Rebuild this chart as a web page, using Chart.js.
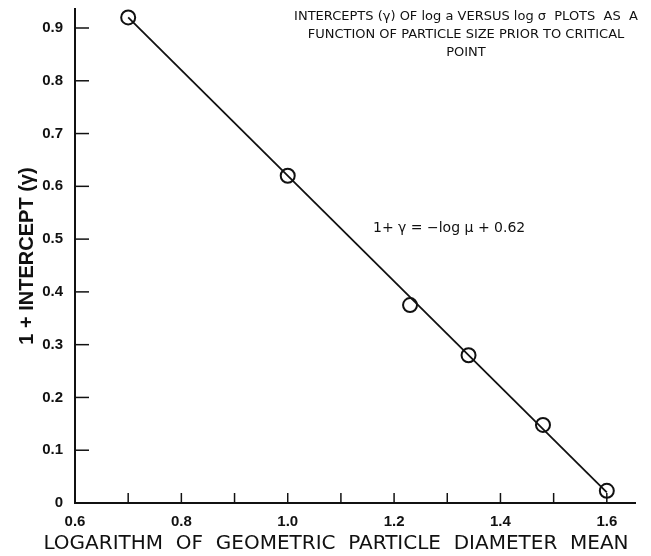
<!DOCTYPE html>
<html>
<head>
<meta charset="utf-8">
<script src="https://cdn.jsdelivr.net/npm/chart.js@4/dist/chart.umd.min.js"></script>
<style>
  html, body { margin: 0; padding: 0; background: #fff; }
  #wrap { width: 651px; height: 556px; }
</style>
</head>
<body>
<div id="wrap"><canvas id="chart" width="651" height="556"></canvas></div>
<script>
// measured points
const logDiameter = [0.7, 1.0, 1.23, 1.34, 1.48, 1.6];
const intercept = [0.92, 0.62, 0.375, 0.28, 0.148, 0.023];

// fitted line: 1 + y = -log u + 0.62
const fitX = [0.7, 1.6];
const fitY = [0.92, 0.02];

const xTitle = "LOGARITHM  OF  GEOMETRIC  PARTICLE  DIAMETER  MEAN";
const yTitle = "1 + INTERCEPT (γ)";
const noteLines = [
  "INTERCEPTS (γ) OF log a VERSUS log σ  PLOTS  AS  A",
  "FUNCTION OF PARTICLE SIZE PRIOR TO CRITICAL",
  "POINT"
];
const eqText = "1+ γ = −log μ + 0.62";

const ink = "#111";

/* inward tick marks + text notes */
const extras = {
  id: "extras",
  afterDraw(c) {
    const ctx = c.ctx;
    const xs = c.scales.x, ys = c.scales.y;
    ctx.save();
    ctx.strokeStyle = ink;
    ctx.lineWidth = 1.5;
    ys.ticks.forEach(t => {
      const py = ys.getPixelForValue(t.value);
      ctx.beginPath();
      ctx.moveTo(xs.left, py);
      ctx.lineTo(xs.left + 14, py);
      ctx.stroke();
    });
    xs.ticks.forEach(t => {
      const px = xs.getPixelForValue(t.value);
      ctx.beginPath();
      ctx.moveTo(px, ys.bottom);
      ctx.lineTo(px, ys.bottom - 10);
      ctx.stroke();
    });

    ctx.fillStyle = ink;
    ctx.textAlign = "center";
    ctx.textBaseline = "middle";
    ctx.font = "13px 'DejaVu Sans'";
    noteLines.forEach((s, i) => ctx.fillText(s, 466, 17 + i * 18));
    ctx.font = "20px 'DejaVu Sans'";
    ctx.fillText(xTitle, 336, 544);
    ctx.textAlign = "left";
    ctx.font = "14px 'DejaVu Sans'";
    ctx.fillText(eqText, 373, 228);
    ctx.restore();
  }
};

new Chart(document.getElementById("chart"), {
  type: "scatter",
  data: {
    datasets: [
      {
        label: "fit",
        data: fitX.map((x, i) => ({ x, y: fitY[i] })),
        showLine: true,
        borderColor: ink,
        borderWidth: 1.8,
        pointRadius: 0
      },
      {
        label: "points",
        data: logDiameter.map((x, i) => ({ x, y: intercept[i] })),
        pointStyle: "circle",
        pointRadius: 7,
        pointBorderWidth: 2,
        pointBorderColor: ink,
        pointBackgroundColor: "#fff"
      }
    ]
  },
  options: {
    responsive: false,
    animation: false,
    layout: { autoPadding: false, padding: { top: 9, right: 16, left: 0, bottom: 0 } },
    plugins: { legend: { display: false }, tooltip: { enabled: false } },
    scales: {
      x: {
        type: "linear",
        min: 0.6,
        max: 1.653,
        afterFit: s => { s.height = 53; s.paddingLeft = 0; s.paddingRight = 0; },
        grid: { display: false, drawTicks: false },
        border: { display: true, color: ink, width: 2 },
        ticks: {
          stepSize: 0.1,
          includeBounds: false,
          autoSkip: false,
          maxRotation: 0,
          padding: 10,
          color: ink,
          font: { family: "'Liberation Sans'", size: 15, weight: "bold" },
          callback: v => {
            const k = Math.round(v * 10);
            return k % 2 === 0 ? (k / 10).toFixed(1) : "";
          }
        }
      },
      y: {
        type: "linear",
        min: 0,
        max: 0.936,
        afterFit: s => { s.width = 75; s.paddingTop = 0; s.paddingBottom = 0; },
        grid: { display: false, drawTicks: false },
        border: { display: true, color: ink, width: 2 },
        ticks: {
          stepSize: 0.1,
          includeBounds: false,
          padding: 12,
          color: ink,
          font: { family: "'Liberation Sans'", size: 15, weight: "bold" },
          callback: v => {
            const k = Math.round(v * 10);
            return k === 0 ? "0" : (k / 10).toFixed(1);
          }
        },
        title: {
          display: true,
          text: yTitle,
          color: ink,
          font: { family: "'Liberation Sans'", size: 20, weight: "bold" },
          padding: { top: 15, bottom: 0 }
        }
      }
    }
  },
  plugins: [extras]
});
</script>
</body>
</html>
